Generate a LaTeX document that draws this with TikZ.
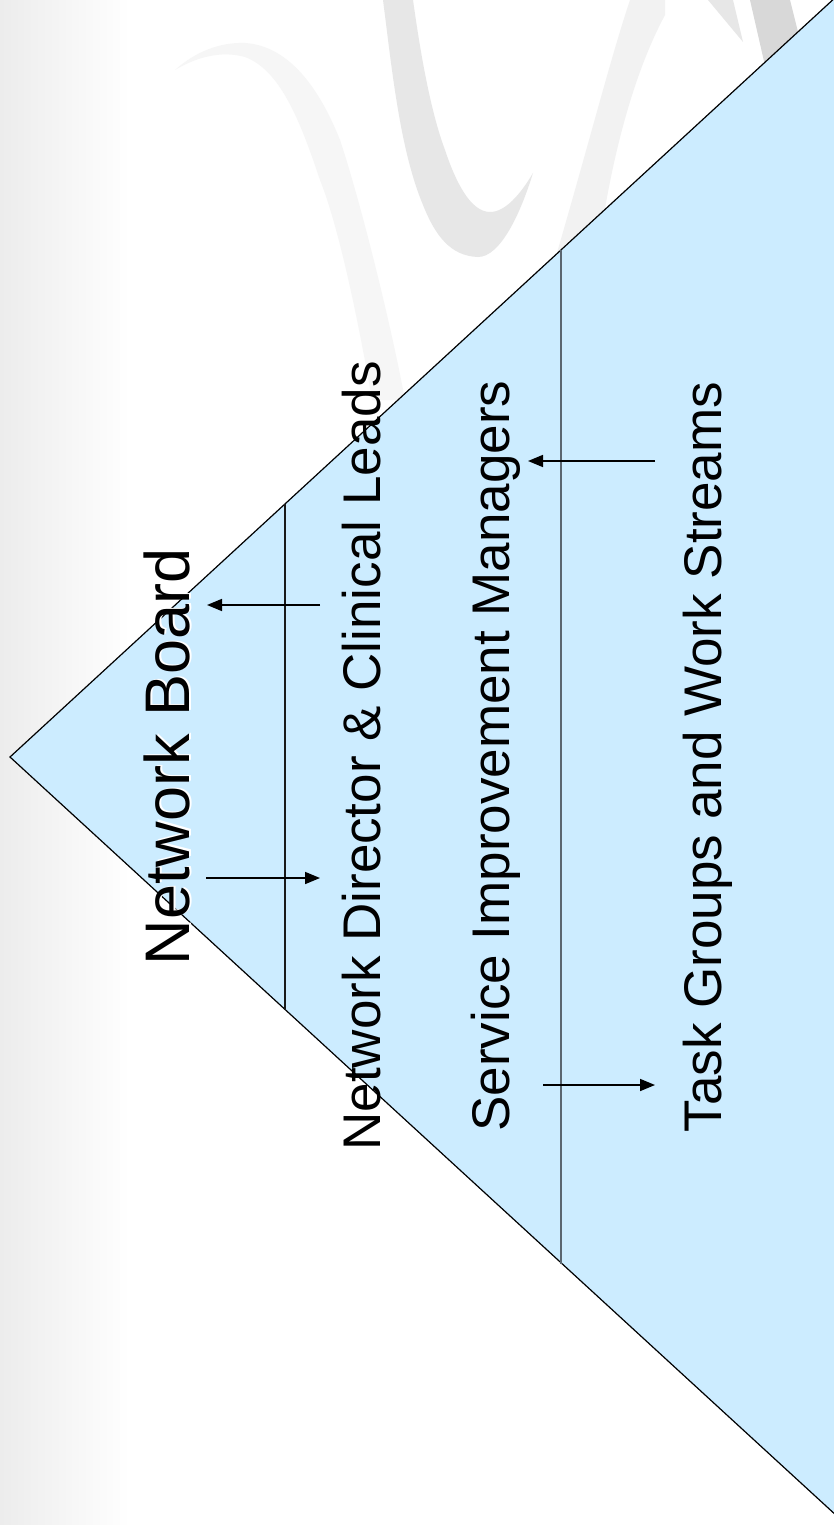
\documentclass[tikz,border=0pt]{standalone}
\usepackage{fontspec}
\setmainfont{Liberation Sans}
\usetikzlibrary{arrows.meta}
\definecolor{pyr}{RGB}{204,236,255}
\definecolor{swa}{RGB}{246,246,246}
\definecolor{swb}{RGB}{231,231,231}
\definecolor{swc}{RGB}{242,242,242}
\definecolor{swd}{RGB}{216,216,216}
\definecolor{bgl}{RGB}{236,236,236}
\definecolor{divb}{RGB}{90,102,112}
\begin{document}
\begin{tikzpicture}[x=1pt,y=-1pt,
  lbl/.style={rotate=90, anchor=base, inner sep=0pt, font=\fontsize{53}{60}\selectfont},
  bigl/.style={lbl, font=\fontsize{63}{70}\selectfont},
  conn/.style={line width=1.6pt, -{Triangle[length=15pt,width=12pt]}},
  divider/.style={line width=2pt}]
\useasboundingbox (0,0) rectangle (834,1525);
\clip (0,0) rectangle (834,1525);
\fill[white] (0,0) rectangle (834,1525);
\shade[left color=bgl, right color=white] (0,0) rectangle (130,1525);
% faint swirl decoration
\fill[swa] (175,70) .. controls (195,52) and (220,42) .. (245,43)
  .. controls (290,46) and (320,90) .. (340,140)
  .. controls (360,200) and (390,320) .. (405,400) -- (372,400)
  .. controls (360,330) and (340,230) .. (320,180)
  .. controls (300,120) and (280,70) .. (245,57)
  .. controls (220,50) and (195,58) .. (175,70) -- cycle;
\fill[swb] (383,0) .. controls (392,70) and (400,150) .. (423,205)
  .. controls (435,235) and (450,256) .. (478,257)
  .. controls (500,257) and (520,215) .. (533,173)
  .. controls (520,195) and (505,212) .. (490,212)
  .. controls (470,212) and (455,180) .. (445,150)
  .. controls (430,110) and (420,50) .. (413,0) -- cycle;
\fill[swc] (630,0) .. controls (610,60) and (590,140) .. (552,270) -- (600,240)
  .. controls (610,170) and (630,80) .. (665,15) -- (665,0) -- cycle;
\fill[swb] (708,0) -- (743,42) -- (733,0) -- cycle;
\fill[swd] (750,0) -- (766,70) -- (800,40) -- (790,0) -- cycle;
% pyramid
\coordinate (apex) at (10,757);
\coordinate (tr) at (850,-16);
\coordinate (br) at (850,1528);
\filldraw[fill=pyr, draw=black, line width=1.2pt] (apex) -- (tr) -- (br) -- cycle;
% dividers
\coordinate (d1t) at (285,504); \coordinate (d1b) at (285,1010);
\coordinate (d2t) at (561,250); \coordinate (d2b) at (561,1264);
\draw[divider, black!90] (d1t) -- (d1b);
\draw[divider, divb] (d2t) -- (d2b);
% labels
\node[bigl, white] (nbs) at (191.5,755.5) {Network Board};
\node[bigl] (nb) at (189,757) {Network Board};
\node[lbl] (nd) at (380,756) {Network Director \& Clinical Leads};
\node[lbl] (sim) at (509,756) {Service Improvement Managers};
\node[lbl] (tg) at (721,757) {Task Groups and Work Streams};
% arrows
\coordinate (a1s) at (320,605); \coordinate (a1e) at (207,605);
\coordinate (a2s) at (206,878); \coordinate (a2e) at (320,878);
\coordinate (a3s) at (655,461); \coordinate (a3e) at (528,461);
\coordinate (a4s) at (543,1085); \coordinate (a4e) at (655,1085);
\draw[conn] (a1s) -- (a1e);
\draw[conn] (a2s) -- (a2e);
\draw[conn] (a3s) -- (a3e);
\draw[conn] (a4s) -- (a4e);
\end{tikzpicture}
\end{document}
